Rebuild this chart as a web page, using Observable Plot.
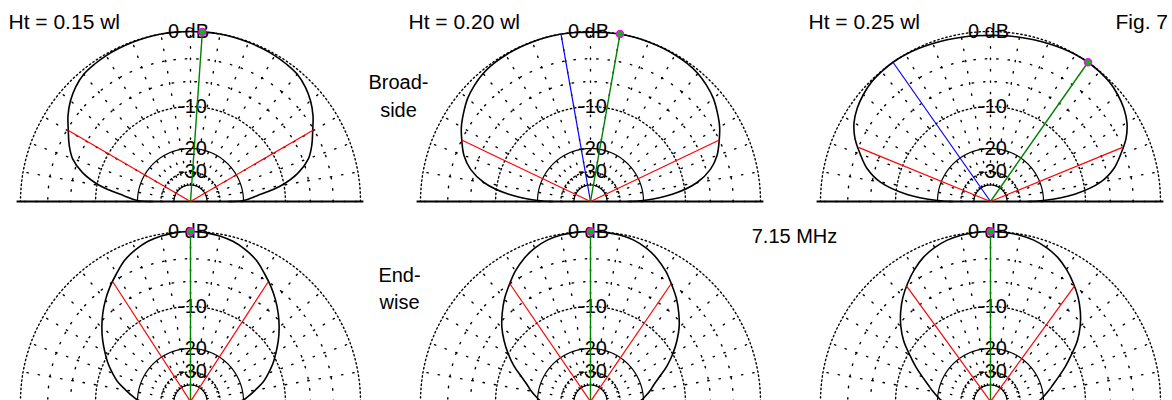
<!DOCTYPE html>
<html><head><meta charset="utf-8">
<script src="https://cdn.jsdelivr.net/npm/d3@7"></script>
<script src="https://cdn.jsdelivr.net/npm/@observablehq/plot@0.6"></script>
<style>
html,body{margin:0;padding:0;background:#fff;overflow:hidden;}
#chart{width:1172px;height:400px;overflow:hidden;}
#chart svg{max-width:none !important;font-family:"Liberation Sans",Arial,sans-serif;}
</style></head><body><div id="chart"></div>
<script>
// ---- data ----
const heightLabels = ["Ht = 0.15 wl", "Ht = 0.20 wl", "Ht = 0.25 wl"];
const rowLabels = ["Broad-\nside", "End-\nwise"];
const freqLabel = "7.15 MHz";
const figLabel = "Fig. 7";

// elevation angles (deg) at which the pattern is read
const angles = [0,1,5,10,15,20,25,30,35,40,45,50,55,60,65,70,75,80,85,90,
  95,100,105,110,115,120,125,130,135,140,145,150,155,160,165,170,175,179,180];

// broadside patterns, dB relative to max
const bs15 = [-26,-20,-16,-10.5,-7.2,-5.2,-4.1,-3.2,-2.2,-1.4,-0.8,-0.4,-0.25,-0.15,-0.1,-0.05,-0.02,0,0,0,
  0,0,-0.02,-0.05,-0.1,-0.15,-0.25,-0.4,-0.8,-1.4,-2.2,-3.2,-4.1,-5.2,-7.2,-10.5,-16,-20,-26];
const bs20 = [-26,-20,-12.5,-7.8,-5.4,-4,-3.1,-2.25,-1.6,-1,-0.6,-0.3,-0.15,-0.08,-0.04,-0.02,0,0,-0.03,-0.06,
  -0.03,0,0,-0.02,-0.04,-0.08,-0.15,-0.3,-0.6,-1,-1.6,-2.25,-3.1,-4,-5.4,-7.8,-12.5,-20,-26];
const bs25 = [-26,-20,-12,-7.2,-4.9,-3.5,-2.2,-1.3,-0.75,-0.4,-0.15,-0.05,0,-0.03,-0.1,-0.18,-0.25,-0.32,-0.37,-0.4,
  -0.37,-0.32,-0.25,-0.18,-0.1,-0.03,0,-0.05,-0.15,-0.4,-0.75,-1.3,-2.2,-3.5,-4.9,-7.2,-12,-20,-26];
// endwise patterns
const ew15 = [-26,-20.5,-18.5,-16.3,-14,-12.3,-10.7,-9.3,-7.9,-6.6,-5.4,-4.3,-3.3,-2.4,-1.5,-0.9,-0.45,-0.2,-0.05,0,
  -0.05,-0.2,-0.45,-0.9,-1.5,-2.4,-3.3,-4.3,-5.4,-6.6,-7.9,-9.3,-10.7,-12.3,-14,-16.3,-18.5,-20.5,-26];
const ew20 = [-26,-21,-19.5,-17.8,-16.3,-14.3,-12,-10,-8.2,-6.6,-5.3,-4.1,-3.1,-2.1,-1.3,-0.7,-0.3,-0.1,-0.02,0,
  -0.02,-0.1,-0.3,-0.7,-1.3,-2.1,-3.1,-4.1,-5.3,-6.6,-8.2,-10,-12,-14.3,-16.3,-17.8,-19.5,-21,-26];
const ew25 = [-26,-21.5,-20,-18.3,-16.6,-14.6,-12.4,-10.3,-8.1,-6.4,-5,-3.8,-2.8,-1.9,-1.15,-0.65,-0.3,-0.12,-0.03,0,
  -0.03,-0.12,-0.3,-0.65,-1.15,-1.9,-2.8,-3.8,-5,-6.4,-8.1,-10.3,-12.4,-14.6,-16.6,-18.3,-20,-21.5,-26];
const patterns = [bs15, bs20, bs25, ew15, ew20, ew25];

const maxAngle    = [86, 80, 55, 90, 90, 90];          // green line / marker
const cursorAngle = [null, 100, 125, null, null, null]; // blue line
const hpLow  = [30.2, 25.5, 22.3, 57, 55.6, 54];        // -3 dB points (red)
const hpHigh = [149.8, 154.5, 157.7, 123, 124.4, 126];

// grid (ARRL log scale)
const ringDbDense = [0, -10, -30];
const ringDbSparse = [-3, -6];
const ringDbSolid = [-20, -40];
const ringLabelDb = [0, -10, -20, -30];
const ringLabels = ["0 dB", "-10", "-20", "-30"];
const radialAngles = [0,10,20,30,40,50,60,70,80,90,100,110,120,130,140,150,160,170,180];

// ---- helpers ----
const rr = db => Math.pow(0.89, -db / 2);          // ARRL log radius
const rad = a => a * Math.PI / 180;
const X = (a, db) => rr(db) * Math.cos(rad(a));
const Y = (a, db) => rr(db) * Math.sin(rad(a));
const colOf = i => i % 3, rowOf = i => Math.floor(i / 3);

const patternPts = patterns.flatMap((p, i) => angles.map((a, j) => ({col: colOf(i), row: rowOf(i), a, db: p[j]})));
const ringArc = dbs => dbs.flatMap(db => d3.range(0, 180.5, 1).map(a => ({db, a})));
const radialPts = radialAngles.flatMap(a => [{a, db: -40}, {a, db: 0}]);
const beams = (arr, db) => arr.map((a, i) => ({col: colOf(i), row: rowOf(i), a, db})).filter(d => d.a != null);
const redLines = [...beams(hpLow, -3), ...beams(hpHigh, -3)];
const greenLines = beams(maxAngle, 0);
const blueLines = beams(cursorAngle, 0);
const ringLab = ringLabelDb.map((db, i) => ({db, label: ringLabels[i]}));

const link = (data, color, w) => Plot.link(data, {
  fx: "col", fy: "row",
  x1: () => 0, y1: () => 0,
  x2: d => X(d.a, d.db), y2: d => Y(d.a, d.db),
  stroke: color, strokeWidth: w
});

const RPX = 170, CX = 190, CY = 201, FW = 400, FH = 200;

const chart = Plot.plot({
  width: 1200, height: 400,
  marginTop: 0, marginRight: 0, marginBottom: 0, marginLeft: 0,
  fx: {domain: [0, 1, 2], padding: 0, axis: null},
  fy: {domain: [0, 1], padding: 0, axis: null},
  x: {domain: [-CX / RPX, (FW - CX) / RPX], axis: null},
  y: {domain: [(CY - FH) / RPX, CY / RPX], axis: null},
  style: {fontFamily: "'Liberation Sans', Arial, sans-serif", color: "#000", background: "#fff", maxWidth: "none"},
  marks: [
    // dense dotted rings
    Plot.line(ringArc(ringDbDense), {x: d => X(d.a, d.db), y: d => Y(d.a, d.db), z: "db",
      stroke: "#000", strokeWidth: 1.4, strokeDasharray: "1.4 2.8"}),
    // sparse dotted rings
    Plot.line(ringArc(ringDbSparse), {x: d => X(d.a, d.db), y: d => Y(d.a, d.db), z: "db",
      stroke: "#000", strokeWidth: 1.4, strokeDasharray: "1.4 10"}),
    // solid rings
    Plot.line(ringArc(ringDbSolid), {x: d => X(d.a, d.db), y: d => Y(d.a, d.db), z: "db",
      stroke: "#000", strokeWidth: 1.2}),
    // radial spokes
    Plot.line(radialPts, {x: d => X(d.a, d.db), y: d => Y(d.a, d.db), z: "a",
      stroke: "#000", strokeWidth: 1.4, strokeDasharray: "1.4 10"}),
    // ground line
    Plot.ruleY([0], {x1: -1.02, x2: 1.02, stroke: "#000", strokeWidth: 2}),
    // ring labels
    Plot.text(ringLab.filter(d => d.db === 0), {x: () => 0, y: d => rr(d.db), text: "label",
      fontSize: 20, dx: -2, fill: "#000"}),
    Plot.text(ringLab.filter(d => d.db !== 0), {x: () => 0, y: d => rr(d.db), text: "label",
      fontSize: 20, dx: 2, fill: "#000"}),
    // pattern
    Plot.line(patternPts, {fx: "col", fy: "row", x: d => X(d.a, d.db), y: d => Y(d.a, d.db),
      z: d => d.col + "-" + d.row, curve: "catmull-rom", stroke: "#000", strokeWidth: 1.6}),
    // beam lines
    link(redLines, "#ff0000", 1.2),
    link(blueLines, "#0000ff", 1.2),
    link(greenLines, "#008000", 1.4),
    Plot.dot(greenLines, {fx: "col", fy: "row", x: d => X(d.a, d.db), y: d => Y(d.a, d.db),
      r: 3.5, fill: "#00c000", stroke: "#ff00ff", strokeWidth: 1.5}),
    // titles
    Plot.text(heightLabels, {fx: (d, i) => i, fy: () => 0, text: d => d, frameAnchor: "top-left",
      textAnchor: "start", lineAnchor: "middle", dx: 8, dy: 22, fontSize: 21}),
    Plot.text([rowLabels[0]], {fx: () => 1, fy: () => 0, text: d => d, frameAnchor: "top-left",
      textAnchor: "middle", lineAnchor: "middle", dx: -2, dy: 94, fontSize: 20, lineHeight: 1.4}),
    Plot.text([rowLabels[1]], {fx: () => 1, fy: () => 1, text: d => d, frameAnchor: "top-left",
      textAnchor: "middle", lineAnchor: "middle", dx: -1, dy: 86, fontSize: 20, lineHeight: 1.35}),
    Plot.text([freqLabel], {fx: () => 1, fy: () => 1, text: d => d, frameAnchor: "top-left",
      textAnchor: "middle", lineAnchor: "middle", dx: 394, dy: 36, fontSize: 20}),
    Plot.text([figLabel], {fx: () => 2, fy: () => 0, text: d => d, frameAnchor: "top-left",
      textAnchor: "start", lineAnchor: "middle", dx: 315, dy: 22, fontSize: 21})
  ]
});
chart.style.maxWidth = "none";
document.getElementById("chart").appendChild(chart);
</script></body></html>
